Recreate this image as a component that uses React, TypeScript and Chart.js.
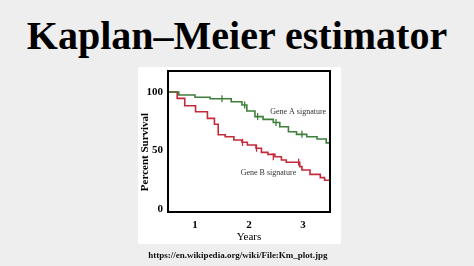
import React, { useEffect, useRef } from "react";
import { Chart, registerables } from "chart.js";

Chart.register(...registerables);

// Gene A signature (green) — step function: time of drop, survival after drop
const geneATimes = [0.5, 0.7, 1.0, 1.28, 1.67, 1.87, 1.96, 2.11, 2.26, 2.45, 2.57, 2.73, 2.88, 3.07, 3.26, 3.43, 3.5];
const geneASurvival = [100, 97.5, 95.6, 94.3, 91.7, 88.9, 83.8, 79.0, 76.6, 74.0, 70.3, 66.1, 63.8, 61.8, 59.8, 56.5, 56.5];
const geneACensorTimes = [1.5, 1.92, 2.16, 2.5, 2.98];
const geneACensorSurvival = [94.3, 88.9, 79.0, 74.0, 63.8];

// Gene B signature (red)
const geneBTimes = [0.5, 0.67, 0.81, 1.01, 1.23, 1.36, 1.43, 1.56, 1.72, 1.87, 1.97, 2.13, 2.23, 2.35, 2.48, 2.6, 2.69, 2.94, 2.98, 3.13, 3.32, 3.4, 3.5];
const geneBSurvival = [100, 94.6, 88.3, 83.2, 77.5, 72.4, 63.5, 61.8, 59.0, 57.0, 54.7, 51.9, 48.4, 46.7, 44.7, 41.9, 39.9, 36.2, 33.3, 29.6, 26.8, 24.5, 24.5];
const geneBCensorTimes = [1.88, 2.14, 2.45, 2.92];
const geneBCensorSurvival = [57.0, 51.9, 44.7, 39.9];

const xTicks = [1, 2, 3];
const yTicks = [0, 50, 100];

const seriesLabels = ["Gene A signature", "Gene B signature"];
const seriesLabelAt = [
  { x: 2.91, y: 83 },
  { x: 2.36, y: 31 },
];

const GREEN = "#3f7f3c";
const RED = "#c52a3a";

export default function App() {
  const ref = useRef<HTMLCanvasElement | null>(null);

  useEffect(() => {
    const canvas = ref.current;
    if (!canvas) return;

    const framePlugin = {
      id: "kmFrame",
      afterDraw(chart: any) {
        const { ctx, chartArea, scales } = chart;
        ctx.save();
        ctx.strokeStyle = "#000";
        ctx.lineWidth = 2;
        ctx.strokeRect(chartArea.left, chartArea.top, chartArea.right - chartArea.left, chartArea.bottom - chartArea.top);
        // series labels
        ctx.fillStyle = "#333";
        ctx.font = "8px 'Liberation Serif', serif";
        ctx.textAlign = "center";
        ctx.textBaseline = "middle";
        seriesLabels.forEach((t, i) => {
          ctx.fillText(t, scales.x.getPixelForValue(seriesLabelAt[i].x), scales.y.getPixelForValue(seriesLabelAt[i].y));
        });
        // y axis title
        ctx.fillStyle = "#000";
        ctx.font = "bold 11px 'Liberation Serif', serif";
        ctx.translate(145, 152);
        ctx.rotate(-Math.PI / 2);
        ctx.fillText("Percent Survival", 0, 0);
        ctx.restore();
      },
    };

    const chart = new Chart(canvas, {
      type: "line",
      data: {
        datasets: [
          {
            label: seriesLabels[0],
            data: geneATimes.map((t, i) => ({ x: t, y: geneASurvival[i] })),
            borderColor: GREEN,
            borderWidth: 1.6,
            stepped: "before",
            pointRadius: 0,
            fill: false,
          },
          {
            label: seriesLabels[1],
            data: geneBTimes.map((t, i) => ({ x: t, y: geneBSurvival[i] })),
            borderColor: RED,
            borderWidth: 1.6,
            stepped: "before",
            pointRadius: 0,
            fill: false,
          },
          {
            label: "A censored",
            data: geneACensorTimes.map((t, i) => ({ x: t, y: geneACensorSurvival[i] })),
            showLine: false,
            pointStyle: "line",
            rotation: 90,
            pointRadius: 3.5,
            borderColor: GREEN,
            borderWidth: 1.3,
          },
          {
            label: "B censored",
            data: geneBCensorTimes.map((t, i) => ({ x: t, y: geneBCensorSurvival[i] })),
            showLine: false,
            pointStyle: "line",
            rotation: 90,
            pointRadius: 3.5,
            borderColor: RED,
            borderWidth: 1.3,
          },
        ],
      },
      options: {
        animation: false,
        responsive: false,
        maintainAspectRatio: false,
        layout: { padding: { left: 0, top: 71, right: 144, bottom: 0 } },
        plugins: { legend: { display: false }, tooltip: { enabled: false }, title: { display: false } },
        scales: {
          x: {
            type: "linear",
            min: 0.5,
            max: 3.5,
            grid: { display: false, drawTicks: false, tickLength: 0 },
            border: { display: false },
            afterBuildTicks: (s: any) => {
              s.ticks = xTicks.map((v) => ({ value: v }));
            },
            afterFit: (s: any) => {
              s.height = 54;
            },
            ticks: {
              padding: 7,
              color: "#000",
              font: { family: "'Liberation Serif', serif", size: 11, weight: "bold" },
            },
            title: {
              display: true,
              text: "Years",
              color: "#000",
              font: { family: "'Liberation Serif', serif", size: 11 },
              padding: { top: 0, bottom: 22 },
            },
          },
          y: {
            type: "linear",
            min: -2.6,
            max: 118,
            grid: { display: false, drawTicks: false, tickLength: 0 },
            border: { display: false },
            afterBuildTicks: (s: any) => {
              s.ticks = yTicks.map((v) => ({ value: v }));
            },
            afterFit: (s: any) => {
              s.width = 168;
            },
            ticks: {
              padding: 5,
              color: "#000",
              font: { family: "'Liberation Serif', serif", size: 11, weight: "bold" },
            },
          },
        },
      },
      plugins: [framePlugin],
    });
    return () => chart.destroy();
  }, []);

  return (
    <div style={{ position: "fixed", left: 0, top: 0, width: 474, height: 266, background: "#eeeeee", overflow: "hidden" }}>
      <div
        style={{
          position: "absolute",
          left: 0,
          top: 12,
          width: 474,
          textAlign: "center",
          fontFamily: "'Liberation Serif', serif",
          fontWeight: "bold",
          fontSize: 40,
          lineHeight: "48px",
          color: "#000",
        }}
      >
        Kaplan–Meier estimator
      </div>
      <div style={{ position: "absolute", left: 138, top: 67, width: 203, height: 177, background: "#fff" }} />
      <canvas ref={ref} width={474} height={266} style={{ position: "absolute", left: 0, top: 0, width: 474, height: 266 }} />
      <div
        style={{
          position: "absolute",
          left: 0,
          top: 250,
          width: 476,
          textAlign: "center",
          fontFamily: "'Liberation Serif', serif",
          fontWeight: "bold",
          fontSize: 9,
          lineHeight: "11px",
          color: "#111",
        }}
      >
        https://en.wikipedia.org/wiki/File:Km_plot.jpg
      </div>
    </div>
  );
}
